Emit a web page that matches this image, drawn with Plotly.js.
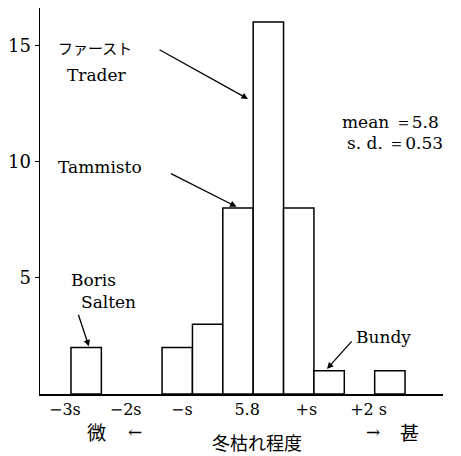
<!DOCTYPE html>
<html>
<head>
<meta charset="utf-8">
<script src="https://cdn.plot.ly/plotly-3.0.1.min.js"></script>
<style>
html,body{margin:0;padding:0;background:#fff;}
#chart{width:461px;height:456px;}
</style>
</head>
<body>
<div id="chart"></div>
<script>
// Histogram bins (bin index, each bin = 0.5 s wide)
const binCenters = [0.5, 3.5, 4.5, 5.5, 6.5, 7.5, 8.5, 10.5];
const counts = [2, 2, 3, 8, 16, 8, 1, 1];
// x tick labels
const xTickPos = [-0.2, 1.8, 3.65, 5.8, 7.75, 9.8];
const xTickText = ['−3s', '−2s', '−s', '5.8', '+s', '+2 s'];
// y ticks
const yTickVals = [5, 10, 15];
// stats
const meanText = 'mean ＝5.8';
const sdText = 's. d. ＝0.53';

const serif = 'DejaVu Serif, Liberation Serif, serif';
const cjk = 'Noto Sans CJK JP, sans-serif';

const trace = {
  type: 'bar',
  x: binCenters,
  y: counts,
  width: 1,
  marker: {color: '#ffffff', line: {color: '#000000', width: 1.5}},
  hoverinfo: 'none'
};

function txt(x, y, text, size, font, anchor) {
  return {x: x, y: y, xref: 'x', yref: 'y', text: text, showarrow: false,
    xanchor: anchor || 'center', yanchor: 'middle',
    font: {family: font || serif, size: size || 17, color: '#000'}};
}
function arr(x, y, ax, ay) {
  return {x: x, y: y, xref: 'x', yref: 'y', text: '', showarrow: true,
    ax: ax, ay: ay, arrowhead: 2, arrowsize: 1, arrowwidth: 1.3, arrowcolor: '#000'};
}
function ptxt(x, y, text, size, font) {
  return {x: x, y: y, xref: 'paper', yref: 'paper', text: text, showarrow: false,
    xanchor: 'center', yanchor: 'middle', borderpad: 0,
    font: {family: font || cjk, size: size || 19, color: '#000'}};
}

const annotations = [
  txt(0.79, 14.92, 'ファースト', 15, cjk),
  txt(0.86, 13.72, 'Trader', 17),
  arr(5.83, 12.69, -90, -50),
  txt(0.96, 9.76, 'Tammisto', 17),
  arr(5.45, 8.05, -67, -34),
  txt(8.86, 11.70, meanText, 17, serif, 'left'),
  txt(9.02, 10.80, sdText, 17, serif, 'left'),
  txt(0.74, 4.90, 'Boris', 17),
  txt(1.24, 3.96, 'Salten', 17),
  arr(0.59, 2.05, -11, -33),
  txt(10.28, 2.45, 'Bundy', 17),
  arr(8.43, 1.08, 26, -29),
  ptxt(0.139, -0.098, '微', 19),
  ptxt(0.236, -0.098, '←', 17, serif),
  ptxt(0.826, -0.098, '→', 17, serif),
  ptxt(0.916, -0.098, '甚', 19),
  ptxt(0.538, -0.124, '冬枯れ程度', 18)
];

const layout = {
  width: 461, height: 456,
  margin: {l: 40, r: 18, t: 8, b: 62, pad: 0},
  paper_bgcolor: '#fff', plot_bgcolor: '#fff',
  showlegend: false,
  bargap: 0,
  xaxis: {
    range: [-1.02, 12.25],
    showline: true, linecolor: '#000', linewidth: 1.5,
    showgrid: false, zeroline: false,
    ticks: '', tickmode: 'array', tickvals: xTickPos, ticktext: xTickText,
    tickfont: {family: serif, size: 16, color: '#000'}
  },
  yaxis: {
    range: [0, 16.6],
    showline: true, linecolor: '#000', linewidth: 1.5,
    showgrid: false, zeroline: false,
    ticks: 'outside', ticklen: 4, tickwidth: 1.2, tickcolor: '#000',
    tickmode: 'array', tickvals: yTickVals,
    tickfont: {family: serif, size: 18, color: '#000'}
  },
  annotations: annotations
};

Plotly.newPlot('chart', [trace], layout, {staticPlot: true, displayModeBar: false});
</script>
</body>
</html>
